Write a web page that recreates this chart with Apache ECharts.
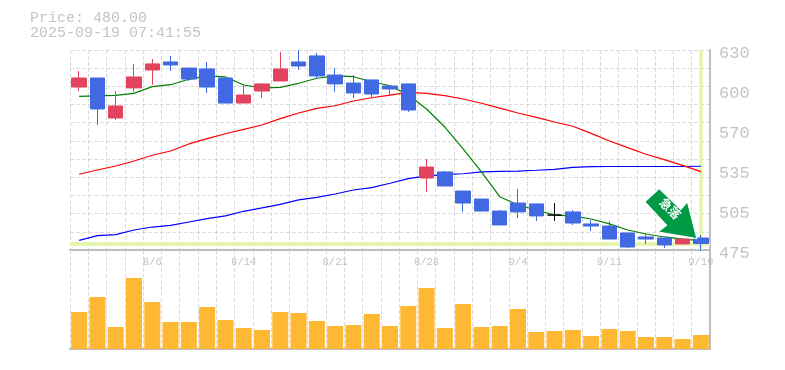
<!DOCTYPE html>
<html><head><meta charset="utf-8">
<style>html,body{margin:0;padding:0;background:#fff}#c{width:785px;height:370px}</style>
<script src="https://cdn.jsdelivr.net/npm/echarts@6/dist/echarts.min.js"></script>
</head><body><div id="c"></div>
<script>
const categories=['7/31','8/1','8/4','8/5','8/6','8/7','8/8','8/12','8/13','8/14','8/15','8/18','8/19','8/20','8/21','8/22','8/25','8/26','8/27','8/28','8/29','9/1','9/2','9/3','9/4','9/5','9/8','9/9','9/10','9/11','9/12','9/16','9/17','9/18','9/19'];
const dateTicks=['8/6','8/14','8/21','8/28','9/4','9/11','9/19'];
const priceTickValues=[630,599,568,537,506,475];
const priceTickLabels=['630','600','570','535','505','475'];
const priceGridValues=[475,489.09,503.18,517.27,531.36,545.45,559.55,573.64,587.73,601.82,615.91,630];
// open, close, low, high
const ohlc=[
[601.3,608.3,598.2,613.7],[608.3,584.3,571.9,608.3],[577.3,586.6,575.8,598.2],[600.6,609.1,597.5,619.2],[614.5,619.2,602.9,623],
[620.7,618.4,613.7,625.4],[616,607.5,606,616],[615.3,601.3,596.7,620.7],[608.3,588.9,588.9,608.3],[588.9,595.1,588.9,602.9],
[598.2,603.7,592.8,604.4],[606,615.3,606,628.5],[620.7,617.6,614.5,630],[625.4,609.9,607.5,627.7],[610.6,603.7,597.5,616],
[604.4,596.7,592.8,610.6],[606.8,595.9,592.8,606.8],[602.1,599.8,594.4,602.1],[603.7,583.5,582,603.7],[530.8,539.3,520,545.5],
[535.5,524.6,524.6,536.2],[520.7,511.4,504.5,520.7],[514.5,505.2,505.2,514.5],[505.2,494.4,494.4,506],[511.4,504.5,499.8,522.3],
[510.7,501.4,497.5,510.7],[502.1,502.1,497.5,511.4],[504.5,495.9,494.4,506],[495.2,493.6,489.7,498.3],[493.6,483.5,483.5,497.5],
[488.2,477.3,476.5,488.2],[485.1,483.5,479.7,488.2],[484.3,478.9,476.5,484.3],[479.7,483.5,479.7,483.5],[484.3,480,474.2,486.6]];
const maShort=[594.1,594.4,594.9,596.4,601.6,603.1,607.3,609.9,609.1,602.9,600.6,601.1,604.2,608.1,609.9,609.3,605.4,602.3,595.1,584.3,570.3,553.3,535.5,516.3,509.9,506,502.1,501.4,499,495.2,490.5,487.4,485.1,483.5,482.2];
const maMid=[533.7,537,540.1,544,548.4,551.7,557.2,561.3,565.1,568.5,571.9,576.8,581.2,584.8,586.8,590.5,593,595.1,597.1,596.4,594.6,592,588.7,585,581.2,577.8,574.2,570.9,565.4,559.5,554.3,549.2,545,540.6,535.7];
const maLong=[482.5,486.1,486.9,490.5,492.8,494.1,496.7,499.3,501.4,505,507.6,510.4,513.8,515.8,518.4,521.5,523.3,526.7,530.3,532.4,533.4,534.1,535.5,536,536.2,536.8,537.5,539.1,539.6,539.7,539.7,539.7,539.7,539.7,539.9];
const volume=[37,52,22,71,47,27,27,42,29,21,19,37,36,28,23,24,35,23,43,61,21,45,22,23,40,17,18,19,13,20,18,12,12,10,14];
const lastPrice=480, lastDate='9/19';
const titleLines=['Price: 480.00','2025-09-19 07:41:55'];
const arrowText='急落';

const UP='#E2435F',DOWN='#4169E1',GRID='#dcdcdc',AXIS='#bdbdbd',TXT='#c4c4c4',MONO='"Liberation Mono","DejaVu Sans Mono",monospace';
const candleData=ohlc.map(d=> d[0]===d[1]
  ? {value:d,itemStyle:{color:'#000',color0:'#000',borderColor:'#000',borderColor0:'#000'}}
  : d);
const grid_splitLine={show:true,interval:0,lineStyle:{color:GRID,type:'dashed',width:1}};
const chart=echarts.init(document.getElementById('c'),null,{renderer:'canvas'});
const maSeries=(name,data,color)=>({name,type:'line',data,xAxisIndex:0,yAxisIndex:0,symbol:'none',smooth:false,z:3,lineStyle:{color,width:1.2},silent:true});
chart.setOption({
  animation:false,
  backgroundColor:'#fff',
  title:{text:titleLines.join('\n'),left:30,top:11,padding:0,textStyle:{fontFamily:MONO,fontSize:15,fontWeight:'normal',color:TXT,lineHeight:15}},
  grid:[{left:70,top:50,width:640,height:200},{left:70,top:250,width:640,height:99}],
  xAxis:[
   {type:'category',gridIndex:0,data:categories,boundaryGap:true,
    axisLine:{show:true,lineStyle:{color:AXIS,width:2}},axisTick:{show:false},splitLine:grid_splitLine,
    axisLabel:{interval:(i,v)=>dateTicks.includes(v),color:TXT,fontFamily:MONO,fontSize:10.5,margin:7,hideOverlap:false}},
   {type:'category',gridIndex:1,data:categories,boundaryGap:true,
    axisLine:{show:true,lineStyle:{color:AXIS,width:2}},axisTick:{show:false},splitLine:grid_splitLine,axisLabel:{show:false}}
  ],
  yAxis:[
   {type:'value',gridIndex:0,position:'right',min:475,max:630,scale:true,
    axisLine:{show:true,lineStyle:{color:AXIS,width:2}},
    axisTick:{show:false,customValues:priceGridValues},
    splitLine:{show:true,lineStyle:{color:GRID,type:'dashed',width:1}},
    axisLabel:{customValues:priceTickValues,formatter:(v)=>priceTickLabels[priceTickValues.indexOf(v)],color:TXT,fontFamily:MONO,fontSize:17,margin:9,verticalAlign:'top',lineHeight:6,showMinLabel:true,showMaxLabel:true}},
   {type:'value',gridIndex:1,position:'right',min:0,max:99,
    axisLine:{show:true,lineStyle:{color:AXIS,width:2}},axisTick:{show:false},splitLine:{show:false},axisLabel:{show:false}}
  ],
  series:[
   {name:'refs',type:'line',data:[],xAxisIndex:0,yAxisIndex:0,z:2,silent:true,
    markLine:{silent:true,symbol:'none',label:{show:false},animation:false,z:2,
      lineStyle:{color:'#E2F5A8',width:3.5,type:'solid'},
      data:[{yAxis:lastPrice},{xAxis:lastDate}]}},
   maSeries('MA long',maLong,'#0000ff'),
   maSeries('MA mid',maMid,'#ff0000'),
   maSeries('MA short',maShort,'#008000'),
   {name:'Price',type:'candlestick',data:candleData,xAxisIndex:0,yAxisIndex:0,barWidth:15,z:5,clip:false,silent:true,
    itemStyle:{color:UP,color0:DOWN,borderColor:UP,borderColor0:DOWN,borderColorDoji:'#000',borderWidth:1},
    markPoint:{silent:true,animation:false,z:7,
      data:[{coord:[lastDate,lastPrice],
        symbol:'path://M14.3 0.3 L35.7 21.3 L42.3 13.7 L51.7 50.3 L13.3 43.7 L21.7 37 L0 13.7 Z',
        symbolKeepAspect:false,symbolSize:[52,50],symbolOffset:[-30,-30],
        itemStyle:{color:'#009944',borderColor:'#fff',borderWidth:1},
        label:{show:true,position:'inside',formatter:arrowText,rotate:-45,offset:[-4,-3],color:'#fff',fontWeight:'bold',fontSize:12,fontFamily:'"Noto Sans CJK JP"'}}]}},
   {name:'Volume',type:'bar',data:volume,xAxisIndex:1,yAxisIndex:1,barWidth:16,itemStyle:{color:'#FFB833'},silent:true}
  ]
});
</script></body></html>
